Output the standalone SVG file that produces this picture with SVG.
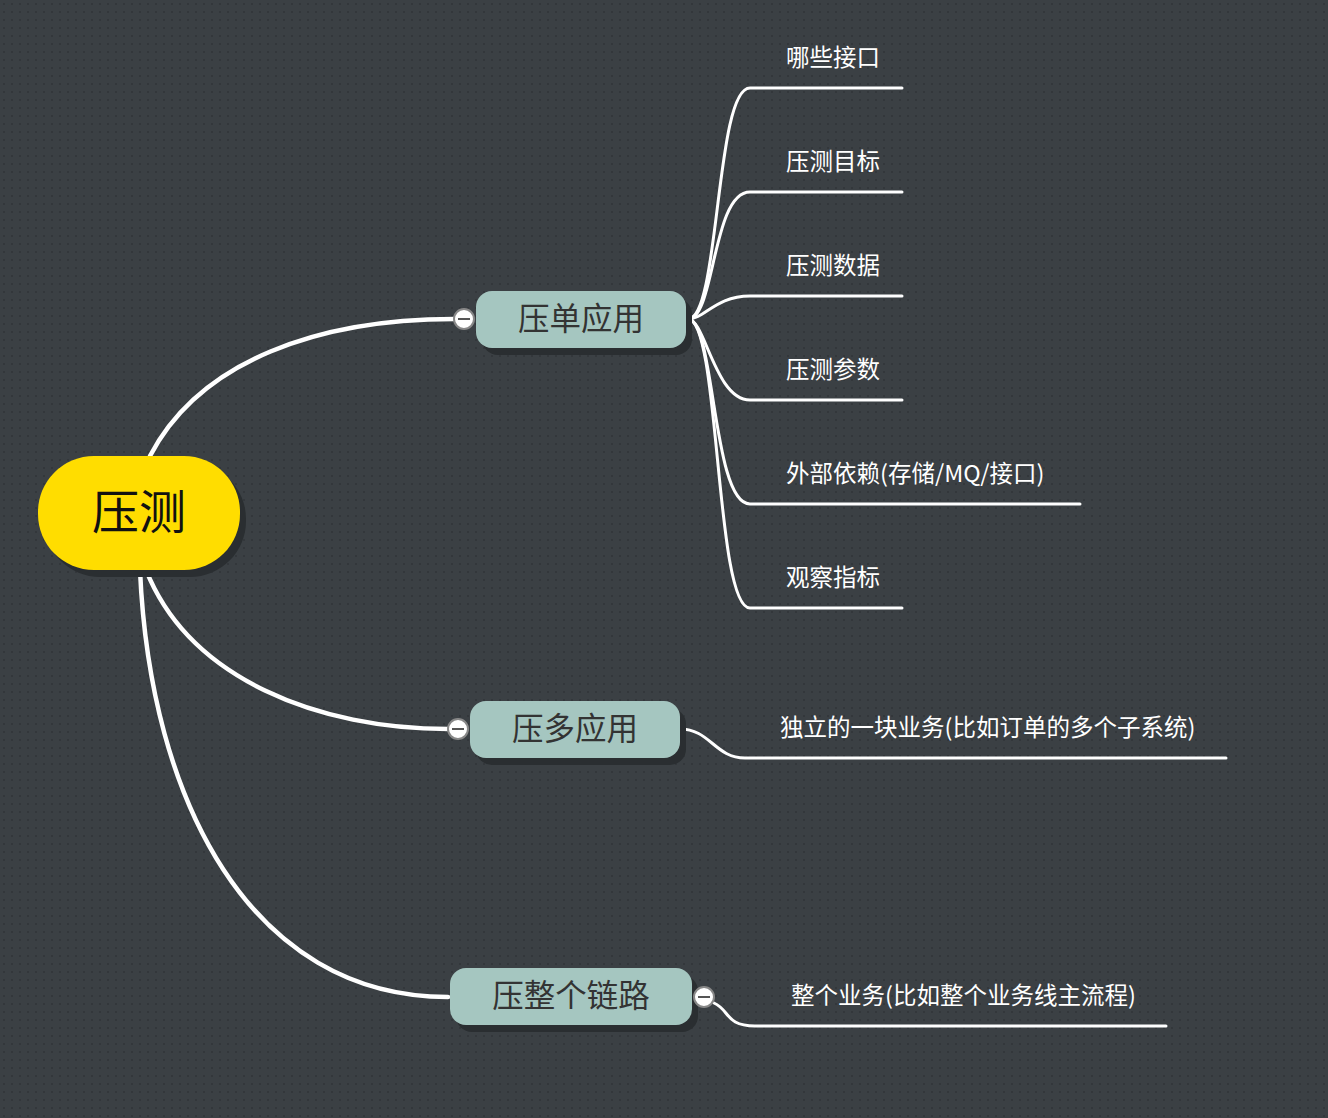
<svg xmlns="http://www.w3.org/2000/svg" width="1328" height="1118" viewBox="0 0 1328 1118">
<defs>
<pattern id="dots" width="8" height="8" patternUnits="userSpaceOnUse">
<rect width="8" height="8" fill="#3b4044"/>
<rect x="3" y="3" width="2" height="2" fill="#33373b"/>
</pattern>
<style>
.f{font-family:"Noto Sans CJK SC","Noto Sans",sans-serif}
.c{fill:none;stroke:#ffffff;stroke-linecap:round}
.m{stroke-width:4.5}
.l{stroke-width:3}
.sh{fill:#2a2e31}
.sub{fill:#a5c6c0}
.st{font-size:31.5px;fill:#333333;text-anchor:middle}
.lt{font-size:23.5px;fill:#ffffff}
.tog{fill:#ffffff;stroke:#888888;stroke-width:2}
.tl{stroke:#555555;stroke-width:2}
</style>
</defs>
<rect width="1328" height="1118" fill="url(#dots)"/>
<g id="connectors">
<path class="c m" d="M150 456 C 200 360, 320 319, 454 319"/>
<path class="c m" d="M146 570 C 190 680, 320 729, 448 729"/>
<path class="c m" d="M140 570 C 150 800, 250 997, 448 997"/>
<path class="c l" d="M688 319 C 720 319, 715 88, 750 88 L 902 88"/>
<path class="c l" d="M688 319 C 715 319, 712 192, 750 192 L 902 192"/>
<path class="c l" d="M688 319 C 705 319, 715 296, 750 296 L 902 296"/>
<path class="c l" d="M688 319 C 705 319, 715 400, 750 400 L 902 400"/>
<path class="c l" d="M688 319 C 715 319, 712 504, 750 504 L 1080 504"/>
<path class="c l" d="M688 319 C 720 319, 715 608, 750 608 L 902 608"/>
<path class="c l" d="M680 729 C 710 729, 715 758, 745 758 L 1226 758"/>
<path class="c l" d="M714 1003 C 730 1010, 725 1026, 755 1026 L 1166 1026"/>
</g>
<g id="root">
<rect class="sh" x="44" y="463" width="202" height="114" rx="56"/>
<rect x="38" y="456" width="202" height="114" rx="56" fill="#ffdd00"/>
<text class="f" x="139" y="529" font-size="47" text-anchor="middle" fill="#111111">压测</text>
</g>
<g id="n1">
<rect class="sh" x="482" y="298" width="210" height="57" rx="16"/>
<rect class="sub" x="476" y="291" width="210" height="57" rx="16"/>
<text class="f st" x="581" y="330">压单应用</text>
<circle class="tog" cx="464" cy="319" r="10"/>
<line class="tl" x1="458" y1="319" x2="470" y2="319"/>
</g>
<g id="n2">
<rect class="sh" x="476" y="708" width="210" height="57" rx="16"/>
<rect class="sub" x="470" y="701" width="210" height="57" rx="16"/>
<text class="f st" x="575" y="740">压多应用</text>
<circle class="tog" cx="458" cy="729" r="10"/>
<line class="tl" x1="452" y1="729" x2="464" y2="729"/>
</g>
<g id="n3">
<rect class="sh" x="456" y="975" width="242" height="57" rx="16"/>
<rect class="sub" x="450" y="968" width="242" height="57" rx="16"/>
<text class="f st" x="571" y="1007">压整个链路</text>
<circle class="tog" cx="704" cy="997" r="10"/>
<line class="tl" x1="698" y1="997" x2="710" y2="997"/>
</g>
<g id="leaf1"><text class="f lt" x="786" y="66">哪些接口</text></g>
<g id="leaf2"><text class="f lt" x="786" y="170">压测目标</text></g>
<g id="leaf3"><text class="f lt" x="786" y="274">压测数据</text></g>
<g id="leaf4"><text class="f lt" x="786" y="378">压测参数</text></g>
<g id="leaf5"><text class="f lt" x="786" y="482">外部依赖(存储/MQ/接口)</text></g>
<g id="leaf6"><text class="f lt" x="786" y="586">观察指标</text></g>
<g id="leaf7"><text class="f lt" x="780" y="736">独立的一块业务(比如订单的多个子系统)</text></g>
<g id="leaf8"><text class="f lt" x="791" y="1004">整个业务(比如整个业务线主流程)</text></g>
</svg>
